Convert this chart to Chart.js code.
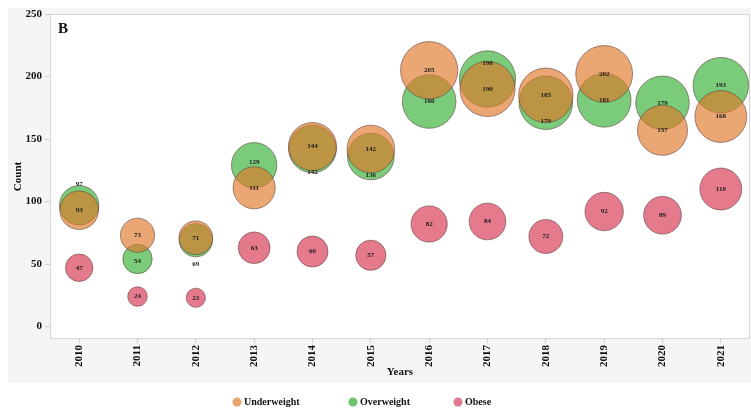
<!DOCTYPE html>
<html>
<head>
<meta charset="utf-8">
<title>Counts by year</title>
<script src="https://cdn.jsdelivr.net/npm/chart.js@4"></script>
<style>
  html, body { margin: 0; padding: 0; background: #fff; }
  #wrap { width: 751px; height: 409px; position: relative; }
</style>
</head>
<body>
<div id="wrap"><canvas id="bubbleChart"></canvas></div>
<script>
const years = [2010, 2011, 2012, 2013, 2014, 2015, 2016, 2017, 2018, 2019, 2020, 2021];
const underweight = [93, 73, 71, 111, 144, 142, 205, 190, 185, 202, 157, 168];
const overweight = [97, 54, 69, 129, 142, 136, 180, 198, 179, 181, 179, 193];
const obese = [47, 24, 23, 63, 60, 57, 82, 84, 72, 92, 89, 110];
const yTicks = [0, 50, 100, 150, 200, 250];

const serif = "'Liberation Serif', 'DejaVu Serif', serif";

// bubble area follows the count
function toPoints(values) {
  return values.map((v, i) => ({ x: years[i], y: v, r: 2 * Math.sqrt(v) }));
}

const series = [
  { label: "Underweight", values: underweight, fill: "rgba(224, 120, 40, 0.65)", key: "#e9a46c" },
  { label: "Overweight", values: overweight, fill: "rgba(50, 175, 50, 0.65)", key: "#6cc46c" },
  { label: "Obese", values: obese, fill: "rgba(215, 50, 80, 0.65)", key: "#e07a8c" },
];

// grey panel behind the whole figure, white plot area with a light frame
const panelPlugin = {
  id: "panel",
  beforeDraw(chart) {
    const { ctx, chartArea: a } = chart;
    ctx.save();
    ctx.fillStyle = "#f5f5f5";
    ctx.fillRect(8, 8, chart.width - 8, 375);
    ctx.fillStyle = "#ffffff";
    ctx.fillRect(a.left, a.top, a.right - a.left, a.bottom - a.top);
    ctx.strokeStyle = "#d6d6d6";
    ctx.lineWidth = 1;
    ctx.strokeRect(a.left + 0.5, a.top + 0.5, a.right - a.left - 1, a.bottom - a.top - 1);
    ctx.restore();
  },
  afterDraw(chart) {
    const { ctx, chartArea: a } = chart;
    ctx.save();
    ctx.fillStyle = "#111";
    ctx.font = "bold 15px " + serif;
    ctx.textBaseline = "alphabetic";
    ctx.fillText("B", a.left + 8, a.top + 19);
    ctx.restore();
  },
};

// count written in the middle of each bubble; overlapping pairs are pushed apart
const valueLabels = {
  id: "valueLabels",
  afterDatasetsDraw(chart) {
    const { ctx } = chart;
    const metaU = chart.getDatasetMeta(0);
    const metaO = chart.getDatasetMeta(1);
    const metaB = chart.getDatasetMeta(2);
    ctx.save();
    ctx.font = "bold 7px " + serif;
    ctx.fillStyle = "#1a1a1a";
    ctx.textAlign = "center";
    ctx.textBaseline = "middle";
    const minGap = 26;
    years.forEach((yr, i) => {
      const pu = metaU.data[i], po = metaO.data[i], pb = metaB.data[i];
      let yo = po.y;
      const d = po.y - pu.y;
      if (Math.abs(d) < minGap) {
        const dir = d === 0 ? (overweight[i] > underweight[i] ? -1 : 1) : Math.sign(d);
        yo = pu.y + dir * minGap;
      }
      ctx.fillText(String(overweight[i]), po.x, yo);
      ctx.fillText(String(underweight[i]), pu.x, pu.y);
      ctx.fillText(String(obese[i]), pb.x, pb.y);
    });
    ctx.restore();
  },
};

// legend row under the grey panel
const keyRow = {
  id: "keyRow",
  afterDraw(chart) {
    const { ctx } = chart;
    const centres = [237, 353, 458];
    ctx.save();
    ctx.font = "bold 10px " + serif;
    ctx.textBaseline = "middle";
    ctx.textAlign = "left";
    series.forEach((s, i) => {
      const cx = centres[i], cy = 402;
      ctx.beginPath();
      ctx.arc(cx, cy, 4.5, 0, Math.PI * 2);
      ctx.fillStyle = s.key;
      ctx.fill();
      ctx.fillStyle = "#111";
      ctx.fillText(s.label, cx + 7, cy);
    });
    ctx.restore();
  },
};

const ctx = document.querySelector("#bubbleChart").getContext("2d");
const chart = new Chart(ctx, {
  type: "bubble",
  data: {
    datasets: series.map((s) => ({
      label: s.label,
      data: toPoints(s.values),
      backgroundColor: s.fill,
      borderColor: "rgba(90, 60, 60, 0.7)",
      borderWidth: 0.8,
      hoverRadius: 0,
    })),
  },
  options: {
    responsive: true,
    maintainAspectRatio: false,
    animation: false,
    layout: { autoPadding: false, padding: { top: 14, left: 0, right: 1, bottom: 26 } },
    plugins: {
      legend: { display: false },
      tooltip: { enabled: false },
    },
    scales: {
      x: {
        type: "linear",
        min: 2009.5,
        max: 2021.5,
        afterBuildTicks: (scale) => { scale.ticks = years.map((v) => ({ value: v })); },
        afterFit: (scale) => {
          scale.height = 44;
          scale.paddingLeft = 0;
          scale.paddingRight = 0;
        },
        grid: { drawOnChartArea: false, tickLength: 4, color: "#cfcfcf" },
        border: { display: false },
        ticks: {
          autoSkip: false,
          minRotation: 90,
          maxRotation: 90,
          padding: 2,
          color: "#111",
          font: { family: serif, size: 11, weight: "bold" },
          callback: (v) => String(v),
        },
        title: {
          display: true,
          text: "Years",
          color: "#111",
          font: { family: serif, size: 11, weight: "bold" },
          padding: { top: 0, bottom: 4 },
        },
      },
      y: {
        min: -10,
        max: 250,
        afterBuildTicks: (scale) => { scale.ticks = yTicks.map((v) => ({ value: v })); },
        afterFit: (scale) => { scale.width = 50; },
        grid: { drawOnChartArea: false, tickLength: 5, color: "#cfcfcf" },
        border: { display: false },
        ticks: {
          padding: 3,
          color: "#111",
          font: { family: serif, size: 11, weight: "bold" },
        },
        title: {
          display: true,
          text: "Count",
          color: "#111",
          font: { family: serif, size: 11, weight: "bold" },
          padding: { top: 12, bottom: 0 },
        },
      },
    },
  },
  plugins: [panelPlugin, valueLabels, keyRow],
});
</script>
</body>
</html>
